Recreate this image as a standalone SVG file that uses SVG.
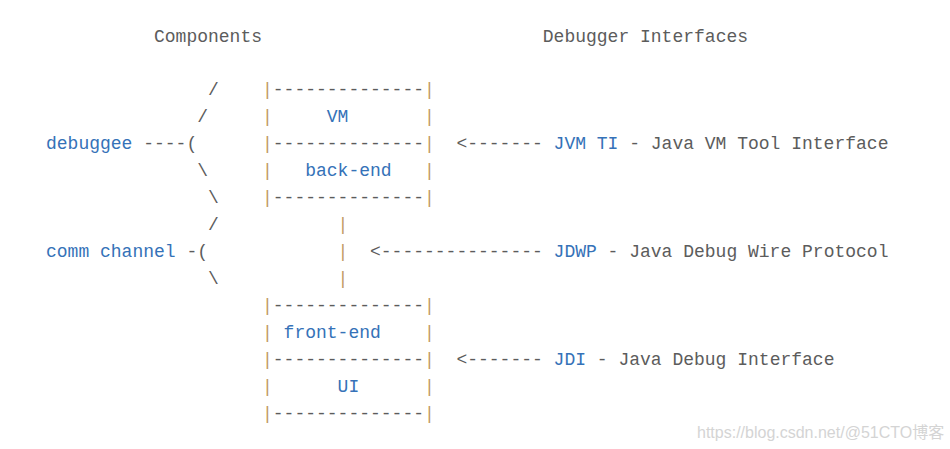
<svg xmlns="http://www.w3.org/2000/svg" width="950" height="449" viewBox="0 0 950 449">
<style>
text{font-family:"Liberation Mono","Courier New",monospace;font-size:18px;white-space:pre}
.g{fill:#5c5c5c}
.b{fill:#3572b8}
.p{fill:#bf9a62}
.wm{font-family:"Liberation Sans","Noto Sans CJK SC",sans-serif;font-size:16px;fill:#d4d4d4}
</style>
<rect width="950" height="449" fill="#ffffff"/>
<g id="heading-components"><text class="g" x="154" y="42">Components</text></g>
<g id="heading-interfaces"><text class="g" x="542.8" y="42">Debugger Interfaces</text></g>

<g id="debuggee"><text class="b" x="46" y="149">debuggee</text></g>
<g id="comm-channel"><text class="b" x="46" y="257">comm channel</text></g>

<g id="box-vm">
<text class="p" x="262" y="95">|</text><text class="g" x="272.8" y="95">--------------</text><text class="p" x="424" y="95">|</text>
<text class="p" x="262" y="122">|</text><text class="b" x="326.8" y="122">VM</text><text class="p" x="424" y="122">|</text>
<text class="p" x="262" y="149">|</text><text class="g" x="272.8" y="149">--------------</text><text class="p" x="424" y="149">|</text>
</g>
<g id="box-backend">
<text class="p" x="262" y="176">|</text><text class="b" x="305.2" y="176">back-end</text><text class="p" x="424" y="176">|</text>
<text class="p" x="262" y="203">|</text><text class="g" x="272.8" y="203">--------------</text><text class="p" x="424" y="203">|</text>
</g>
<g id="box-frontend">
<text class="p" x="262" y="311">|</text><text class="g" x="272.8" y="311">--------------</text><text class="p" x="424" y="311">|</text>
<text class="p" x="262" y="338">|</text><text class="b" x="283.6" y="338">front-end</text><text class="p" x="424" y="338">|</text>
<text class="p" x="262" y="365">|</text><text class="g" x="272.8" y="365">--------------</text><text class="p" x="424" y="365">|</text>
</g>
<g id="box-ui">
<text class="p" x="262" y="392">|</text><text class="b" x="337.6" y="392">UI</text><text class="p" x="424" y="392">|</text>
<text class="p" x="262" y="419">|</text><text class="g" x="272.8" y="419">--------------</text><text class="p" x="424" y="419">|</text>
</g>

<g id="label-jvmti"><text class="g" x="456.4" y="149">&lt;-------</text><text class="b" x="553.6" y="149">JVM TI</text><text class="g" x="629.2" y="149">- Java VM Tool Interface</text></g>
<g id="label-jdwp"><text class="g" x="370" y="257">&lt;---------------</text><text class="b" x="553.6" y="257">JDWP</text><text class="g" x="607.6" y="257">- Java Debug Wire Protocol</text></g>
<g id="label-jdi"><text class="g" x="456.4" y="365">&lt;-------</text><text class="b" x="553.6" y="365">JDI</text><text class="g" x="596.8" y="365">- Java Debug Interface</text></g>

<g id="connectors">
<text class="g" x="208" y="95">/</text>
<text class="g" x="197.2" y="122">/</text>
<text class="g" x="143.2" y="149">----(</text>
<text class="g" x="197.2" y="176">\</text>
<text class="g" x="208" y="203">\</text>
<text class="g" x="208" y="230">/</text>
<text class="g" x="186.4" y="257">-(</text>
<text class="g" x="208" y="284">\</text>
<text class="p" x="337.6" y="230">|</text>
<text class="p" x="337.6" y="257">|</text>
<text class="p" x="337.6" y="284">|</text>
</g>

<text class="wm" x="697" y="438">https://blog.csdn.net/@51CTO博客</text>
</svg>
